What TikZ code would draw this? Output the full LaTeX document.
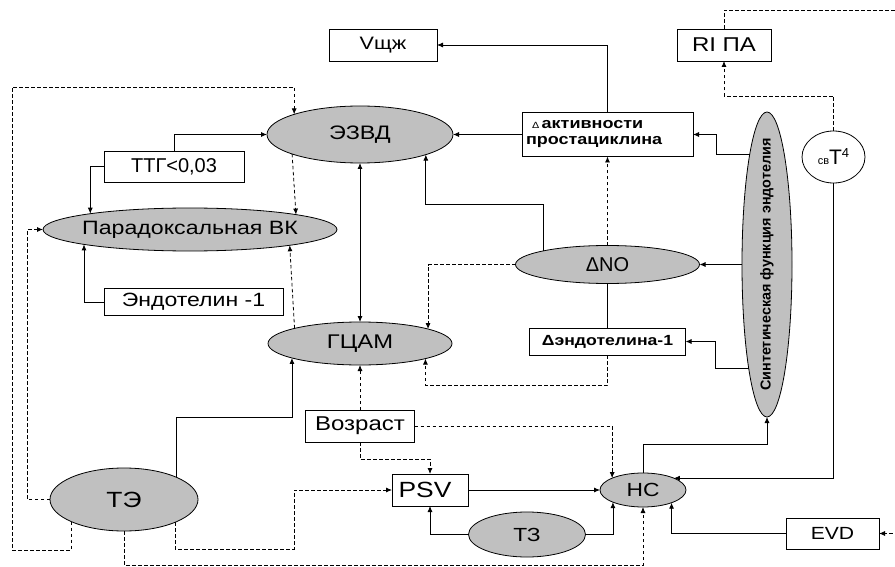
\documentclass[tikz,border=0pt]{standalone}
\usepackage{fontspec}
\setmainfont{Liberation Sans}
\newfontfamily\wide{Liberation Sans}[FakeStretch=1.2]
\usetikzlibrary{shapes.geometric,arrows.meta,calc}
\newcommand\fsz[1]{\fontsize{#1}{#1}\selectfont}
\definecolor{ellgray}{HTML}{C0C0C0}
\begin{document}
\begin{tikzpicture}[x=1pt,y=-1pt,
  box/.style={draw, line width=0.8pt, fill=white, inner sep=0pt, outer sep=0pt, font=\wide\fsz{18}},
  ell/.style={draw, ellipse, fill=ellgray, line width=0.8pt, inner sep=0pt, outer sep=0pt},
  lbl/.style={inner sep=0pt, font=\wide\fsz{18}},
  con/.style={line width=0.8pt, -{Latex[length=6pt,width=5pt]}},
  dsh/.style={con, dash pattern=on 3.5pt off 2.5pt},
  ln/.style={line width=0.8pt}]
\useasboundingbox (0,0) rectangle (895,567);
\clip (0,0) rectangle (895,567);
\fill[white] (0,0) rectangle (895,567);

% boxes
\node[box, minimum width=108, minimum height=32] (vsh) at (383,45) {Vщж};
\node[box, minimum width=94, minimum height=32, font=\wide\fsz{20}] (ripa) at (724,45) {RI ПА};
\node[box, minimum width=140, minimum height=31, font=\fsz{20}] (ttg) at (174,166.5) {ТТГ<0,03};
\node[box, minimum width=179, minimum height=27, font=\wide\fsz{19.2}] (endo) at (193.5,302) {Эндотелин -1};
\node[box, minimum width=109, minimum height=32, font=\wide\fsz{20}] (voz) at (360,426) {Возраст};
\node[box, minimum width=76, minimum height=32, font=\wide\fsz{22}] (psv) at (430,490) {PSV\hspace*{10pt}};
\node[box, minimum width=93, minimum height=31, font=\wide\fsz{17.6}] (evd) at (832.5,533.5) {EVD};
\node[box, minimum width=156, minimum height=27, font=\wide\fsz{14.7}\bfseries] (den) at (607.5,341.5) {Δэндотелина-1};
\node[box, minimum height=44, text width=163, inner xsep=4pt, font=\wide\fsz{15}\bfseries, align=left] (pc) at (607.5,134.5)
  {\hspace*{6pt}{\fsz{9}\mdseries Δ}\,активности\\[1pt]простациклина};
\node[draw, ellipse, line width=0.8pt, fill=white, minimum width=63, minimum height=52, inner sep=0pt, outer sep=0pt] (t4) at (833.5,157)
  {{\fsz{11}св}{\fsz{21}T}\raisebox{7pt}{\fsz{13}4}};

% ellipses
\node[ell, minimum width=186, minimum height=57, label={[lbl,font=\wide\fsz{19.5}]center:ЭЗВД}] (ezvd) at (360,134.5) {};
\node[ell, minimum width=294, minimum height=43, label={[lbl,font=\wide\fsz{19.3}]center:Парадоксальная ВК}] (pvk) at (190,229.5) {};
\node[ell, minimum width=184, minimum height=43, label={[lbl,font=\wide\fsz{19.8}]center:ГЦАМ}] (gcam) at (360,343.5) {};
\node[ell, minimum width=184, minimum height=38, label={[lbl,font=\fsz{20}]center:ΔNO}] (no) at (607.5,264.5) {};
\node[ell, minimum width=50, minimum height=305, label={[lbl,font=\fsz{14.4}\bfseries,rotate=90]center:Синтетическая функция эндотелия}] (sf) at (767,264.5) {};
\node[ell, minimum width=148, minimum height=63, label={[lbl,font=\wide\fsz{22}]center:ТЭ}] (te) at (124,499.5) {};
\node[ell, minimum width=117, minimum height=45, label={[lbl,font=\wide\fsz{19}]center:ТЗ}] (tz) at (527,534.5) {};
\node[ell, minimum width=86, minimum height=34, label={[lbl,font=\wide\fsz{19}]center:НС}] (hc) at (643,490) {};

% corner coordinates
\coordinate (rc1) at (897,10);
\coordinate (rc2) at (897,533.5);
\coordinate (cl1) at (12,550);
\coordinate (cl2) at (12,87);
\coordinate (cp1) at (294,549);

% connectors
\draw[con] (pc.north) |- (vsh.east);
\draw[dsh] (t4.north) -- ++(0,-35) -| (ripa.south);
\draw[dsh] (ripa.north) |- (rc1) -- (rc2) -- (evd.east);
\draw[con] (pc.west) -- (ezvd.east);
\draw[con] (sf.99.35) -- ++(-33,0) |- (pc.east);
\draw[con] (sf.west) -- (no.east);
\draw[con] (sf.260.65) -- ++(-33,0) |- (den.east);
\draw[dsh] (no.north) -- (pc.south);
\draw[con] (no.168.3) -- ++(0,-46) -| (ezvd.343.1);
\draw[dsh] (no.west) -| (gcam.12.8);
\draw[ln] (no.south) -- (den.north);
\draw[dsh] (den.south) -- ++(0,30) -| (gcam.347.2);
\draw[con,<->,>={Latex[length=6pt,width=5pt]}] (ezvd.south) -- (gcam.north);
\draw[con] (ttg.north) |- (ezvd.west);
\draw[con] (ttg.west) -| (pvk.171.7);
\draw[dsh] (ezvd.196.9) -- (pvk.8.3);
\draw[con] (endo.west) -| (pvk.188.3);
\draw[dsh] (gcam.167.2) -- (pvk.351.7);
\draw[dsh] (te.203.3) |- (cl1) -- (cl2) -| (ezvd.163.1);
\draw[dsh] (te.west) -- ++(-23,0) |- (pvk.west);
\draw[con] (te.23.3) -- ++(0,-60) -| (gcam.192.8);
\draw[dsh] (te.336.7) |- (cp1) |- (psv.west);
\draw[dsh] (te.south) -- ++(0,34) -| (hc.south);
\draw[dsh] (voz.north) -- (gcam.south);
\draw[dsh] (voz.south) -- ++(0,17) -| (psv.north);
\draw[dsh] (voz.east) -| (hc.159.2);
\draw[con] (psv.east) -- (hc.west);
\draw[con] (tz.west) -| (psv.south);
\draw[con] (tz.east) -| (hc.202.1);
\draw[con] (evd.west) -| (hc.336.6);
\draw[con] (hc.north) -- ++(0,-29) -| (sf.south);
\draw[con] (t4.south) |- (hc.21.5);
\end{tikzpicture}
\end{document}
